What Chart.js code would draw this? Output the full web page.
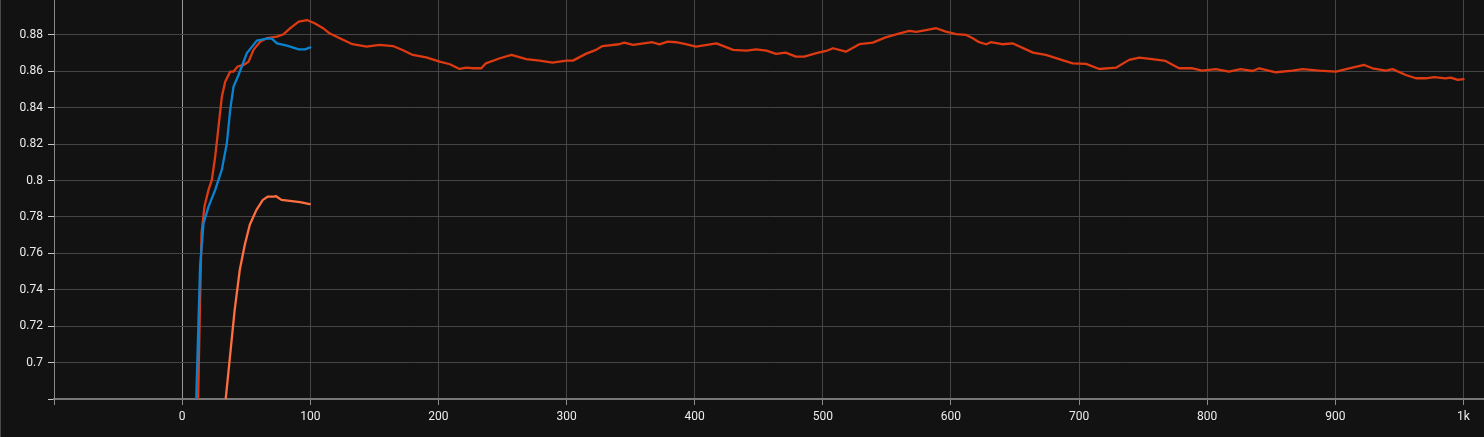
<!DOCTYPE html>
<html>
<head>
<meta charset="utf-8">
<script src="https://cdn.jsdelivr.net/npm/chart.js@4/dist/chart.umd.min.js"></script>
<style>
  html, body { margin: 0; padding: 0; background: #121212; }
  #wrap { position: relative; width: 1484px; height: 437px; }
  canvas { display: block; }
</style>
</head>
<body>
<div id="wrap"><canvas id="c" width="1484" height="437"></canvas></div>
<script>
// ---- data ----
const xTicks = [-100, 0, 100, 200, 300, 400, 500, 600, 700, 800, 900, 1000];
const yTicks = [0.68, 0.70, 0.72, 0.74, 0.76, 0.78, 0.80, 0.82, 0.84, 0.86, 0.88];

const blueSteps  = [10.5, 11, 14, 16.7, 20.6, 25.8, 31, 34.9, 37.5, 40.1, 44, 50.5, 58.3, 66, 70, 74, 81.8, 91, 96, 100];
const blueValues = [0.66, 0.68, 0.7528, 0.7766, 0.7857, 0.7949, 0.806, 0.8205, 0.8388, 0.8516, 0.858, 0.870, 0.8769, 0.878, 0.878, 0.8754, 0.8741, 0.8721, 0.8721, 0.8732];

const orangeSteps  = [33.5, 34, 37.1, 41, 45, 48.9, 52.8, 58, 63, 67, 72, 73, 77.5, 84, 92, 99.6];
const orangeValues = [0.67, 0.68, 0.7016, 0.729, 0.751, 0.7647, 0.7757, 0.7839, 0.7894, 0.7912, 0.7912, 0.7915, 0.7894, 0.7889, 0.7882, 0.7871];

const redSteps = [12, 12.5, 14, 15.2, 17.4, 20.6, 23.2, 25.8, 28.4, 31, 33.6, 37.5, 40.1, 43.2, 47.9, 51.8, 55.7, 60.9, 66, 74,
  79.2, 84.4, 91, 97.4, 103.4, 110, 115, 123, 133, 144, 154, 164.5, 172, 180, 190.5, 201, 209, 216.5, 222, 227,
  233.5, 237, 248, 257, 268.5, 279, 289, 300, 305, 315, 323, 328, 341, 345, 352, 367, 372.5, 379, 385.5, 393,
  401, 417, 430, 440.5, 448, 456, 463.5, 471, 479, 485.5, 495, 502.5, 508, 518, 528.5, 539, 549, 560, 567.5, 573,
  580.5, 588.5, 596, 604, 612, 617, 622, 627.5, 631, 640, 648, 658.5, 664, 674, 684.5, 695, 705.4, 715.8, 728.8, 739,
  747, 757, 767.5, 778, 788.5, 796, 806.8, 817, 826, 835.3, 840.6, 853.6, 866.6, 874.4, 887.4, 900.4, 910.8, 922.5, 929, 939.4,
  944.6, 955, 962.8, 970.6, 977, 986, 990, 995.6, 1000];
const redValues = [0.66, 0.68, 0.7345, 0.7713, 0.7857, 0.7949, 0.8004, 0.8132, 0.8297, 0.8461, 0.8543, 0.8599, 0.8599, 0.8626, 0.8635, 0.8653, 0.8718, 0.8763, 0.8782, 0.8791,
  0.8804, 0.8837, 0.8873, 0.8882, 0.8864, 0.8837, 0.8809, 0.8782, 0.8749, 0.8736, 0.8745, 0.8739, 0.8717, 0.869, 0.8677, 0.8653, 0.8639, 0.8613, 0.8620, 0.8617,
  0.8617, 0.8644, 0.8672, 0.869, 0.8667, 0.8659, 0.8648, 0.8659, 0.8659, 0.8696, 0.8718, 0.8739, 0.8749, 0.8758, 0.8745, 0.876, 0.8748, 0.8763, 0.876, 0.8749,
  0.8736, 0.8754, 0.8718, 0.8714, 0.8721, 0.8714, 0.8696, 0.8703, 0.8681, 0.8681, 0.87, 0.8712, 0.8727, 0.8708, 0.8749, 0.8758, 0.8787, 0.8809, 0.8822, 0.8817,
  0.8827, 0.8837, 0.8818, 0.8804, 0.88, 0.8782, 0.876, 0.8749, 0.876, 0.8749, 0.8754, 0.8721, 0.8703, 0.869, 0.8667, 0.8644, 0.8641, 0.8613, 0.862, 0.8663,
  0.8676, 0.8667, 0.8657, 0.8617, 0.8617, 0.8604, 0.8612, 0.8599, 0.8612, 0.8602, 0.8617, 0.8595, 0.8604, 0.8612, 0.8604, 0.8599, 0.8617, 0.8635, 0.8617, 0.8604,
  0.8612, 0.858, 0.8562, 0.8562, 0.8568, 0.8562, 0.8566, 0.8553, 0.8557];

const toPts = (xs, ys) => xs.map((x, i) => ({ x: x, y: ys[i] }));

const bgPlugin = {
  id: 'bg',
  beforeDraw(chart) {
    const c = chart.ctx;
    c.save();
    c.fillStyle = '#121212';
    c.fillRect(0, 0, chart.width, chart.height);
    c.fillStyle = '#4a4a4a';
    c.fillRect(0, 0, 1, chart.height);
    c.restore();
  }
};

new Chart(document.getElementById('c'), {
  type: 'line',
  data: {
    datasets: [
      { label: 'blue', data: toPts(blueSteps, blueValues), borderColor: '#0b82cf', borderWidth: 2.3 },
      { label: 'orange', data: toPts(orangeSteps, orangeValues), borderColor: '#ff6f40', borderWidth: 2.3 },
      { label: 'red', data: toPts(redSteps, redValues), borderColor: '#dd3a12', borderWidth: 2.3 }
    ]
  },
  options: {
    responsive: false,
    animation: false,
    layout: { padding: 0 },
    elements: { point: { radius: 0 }, line: { tension: 0, borderJoinStyle: 'round', borderCapStyle: 'round' } },
    plugins: { legend: { display: false }, tooltip: { enabled: false } },
    scales: {
      x: {
        type: 'linear',
        min: -100,
        max: 1016,
        afterBuildTicks(s) { s.ticks = xTicks.map(v => ({ value: v })); },
        afterFit(s) { s.height = 38; s.paddingLeft = 0; s.paddingRight = 0; },
        ticks: {
          color: '#ececec',
          font: { family: 'Roboto', size: 12 },
          padding: 5,
          maxRotation: 0,
          autoSkip: false,
          callback: (v) => v < 0 ? '' : (v === 1000 ? '1k' : String(v))
        },
        grid: {
          color: (ctx) => (ctx.tick && ctx.tick.value === 0) ? '#9a9a9a' : '#454545',
          lineWidth: 1,
          tickLength: 6,
          tickColor: '#8a8a8a'
        },
        border: { color: '#777777', width: 2 }
      },
      y: {
        type: 'linear',
        min: 0.68,
        max: 0.8992,
        afterBuildTicks(s) { s.ticks = yTicks.map(v => ({ value: v })); },
        afterFit(s) { s.width = 54; s.paddingTop = 0; s.paddingBottom = 0; },
        ticks: {
          color: '#ececec',
          font: { family: 'Roboto', size: 12 },
          padding: 5,
          autoSkip: false,
          callback: (v) => v < 0.69 ? '' : String(+v.toFixed(2))
        },
        grid: {
          color: '#454545',
          lineWidth: 1,
          tickLength: 6,
          tickColor: '#c8c8c8'
        },
        border: { color: '#8a8a8a', width: 1 }
      }
    }
  },
  plugins: [bgPlugin]
});
</script>
</body>
</html>
